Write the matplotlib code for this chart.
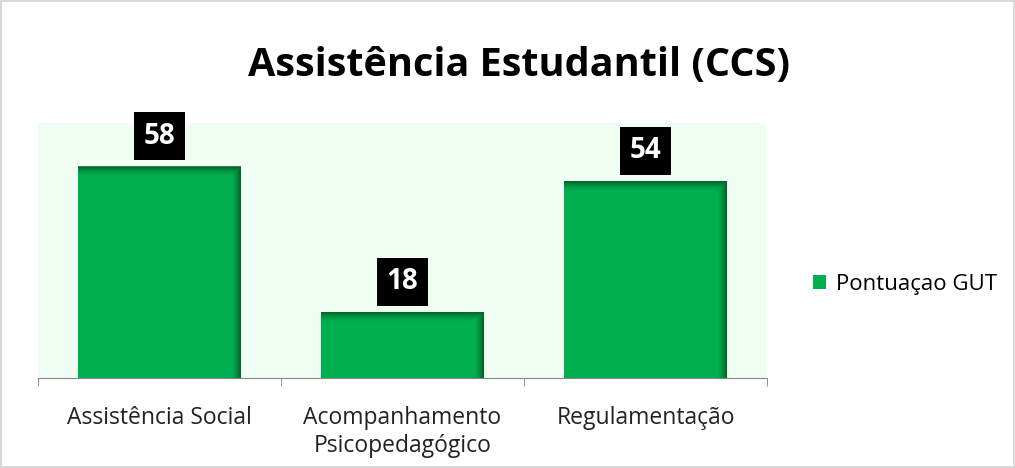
import matplotlib.pyplot as plt
import numpy as np

categories = ['Assistência Social', 'Acompanhamento\nPsicopedagógico', 'Regulamentação']
scores = [58, 18, 54]
series_name = 'Pontuaçao GUT'
title = 'Assistência Estudantil (CCS)'

plt.rcParams['font.family'] = ['Open Sans', 'DejaVu Sans']

fig = plt.figure(figsize=(10.15, 4.68), dpi=100)
fig.patch.set_edgecolor('#d9d9d9')
fig.patch.set_linewidth(1.5)
ax = fig.add_axes([0.0374, 0.1923, 0.7183, 0.5449])
ax.set_facecolor('#effdf2')

x = np.arange(len(categories))
width = 0.67
bars = ax.bar(x, scores, width, color='#00b050', label=series_name, zorder=2)

# inner shadow on the right and top edges of each bar
for rect in bars:
    x0, w, h = rect.get_x(), rect.get_width(), rect.get_height()
    nx, ny = 200, 200
    xs = np.linspace(0, 1, nx)
    ys = np.linspace(0, 1, ny)
    dx = (1 - xs) * w * 243   # px from right edge
    dy = (1 - ys) * h * 3.655  # px from top edge
    a_r = np.clip(1 - dx / 10, 0, 1) ** 1.5
    a_t = np.clip(1 - dy / 10, 0, 1) ** 1.5
    alpha = np.maximum(a_r[None, :], a_t[:, None]) * 0.75
    img = np.zeros((ny, nx, 4))
    img[..., 1] = 0.30
    img[..., 2] = 0.12
    img[..., 3] = alpha
    ax.imshow(img, extent=(x0, x0 + w, 0, h), origin='lower', aspect='auto',
              zorder=3, interpolation='bilinear')
    ax.text(rect.get_x() + w / 2, h + 4.4, str(int(h)), ha='center', va='bottom',
            fontsize=20, fontweight='bold', color='white', zorder=4,
            bbox=dict(boxstyle='square,pad=0.34', facecolor='black', edgecolor='none'))

ax.set_xlim(-0.5, len(categories) - 0.5)
ax.set_ylim(0, 70)
ax.set_yticks([])
for s in ['top', 'right', 'left']:
    ax.spines[s].set_visible(False)
ax.spines['bottom'].set_color('#868686')
ax.set_xticks(x)
ax.set_xticklabels(categories, fontsize=16.5, color='#222222', linespacing=1.25)
ax.tick_params(axis='x', length=0, pad=20)
ax.set_xticks(np.arange(len(categories) + 1) - 0.5, minor=True)
ax.tick_params(axis='x', which='minor', length=6, color='#868686')

fig.text(0.511, 0.86, title, ha='center', va='center', fontsize=28.5, fontweight='bold',
         color='black')

leg = fig.legend(handles=[bars], labels=[series_name], loc='center left',
                 bbox_to_anchor=(0.781, 0.392), frameon=False, fontsize=16,
                 handlelength=0.6, handleheight=0.6, handletextpad=0.45)

fig.savefig('out.png', dpi=100, edgecolor=fig.get_edgecolor())
